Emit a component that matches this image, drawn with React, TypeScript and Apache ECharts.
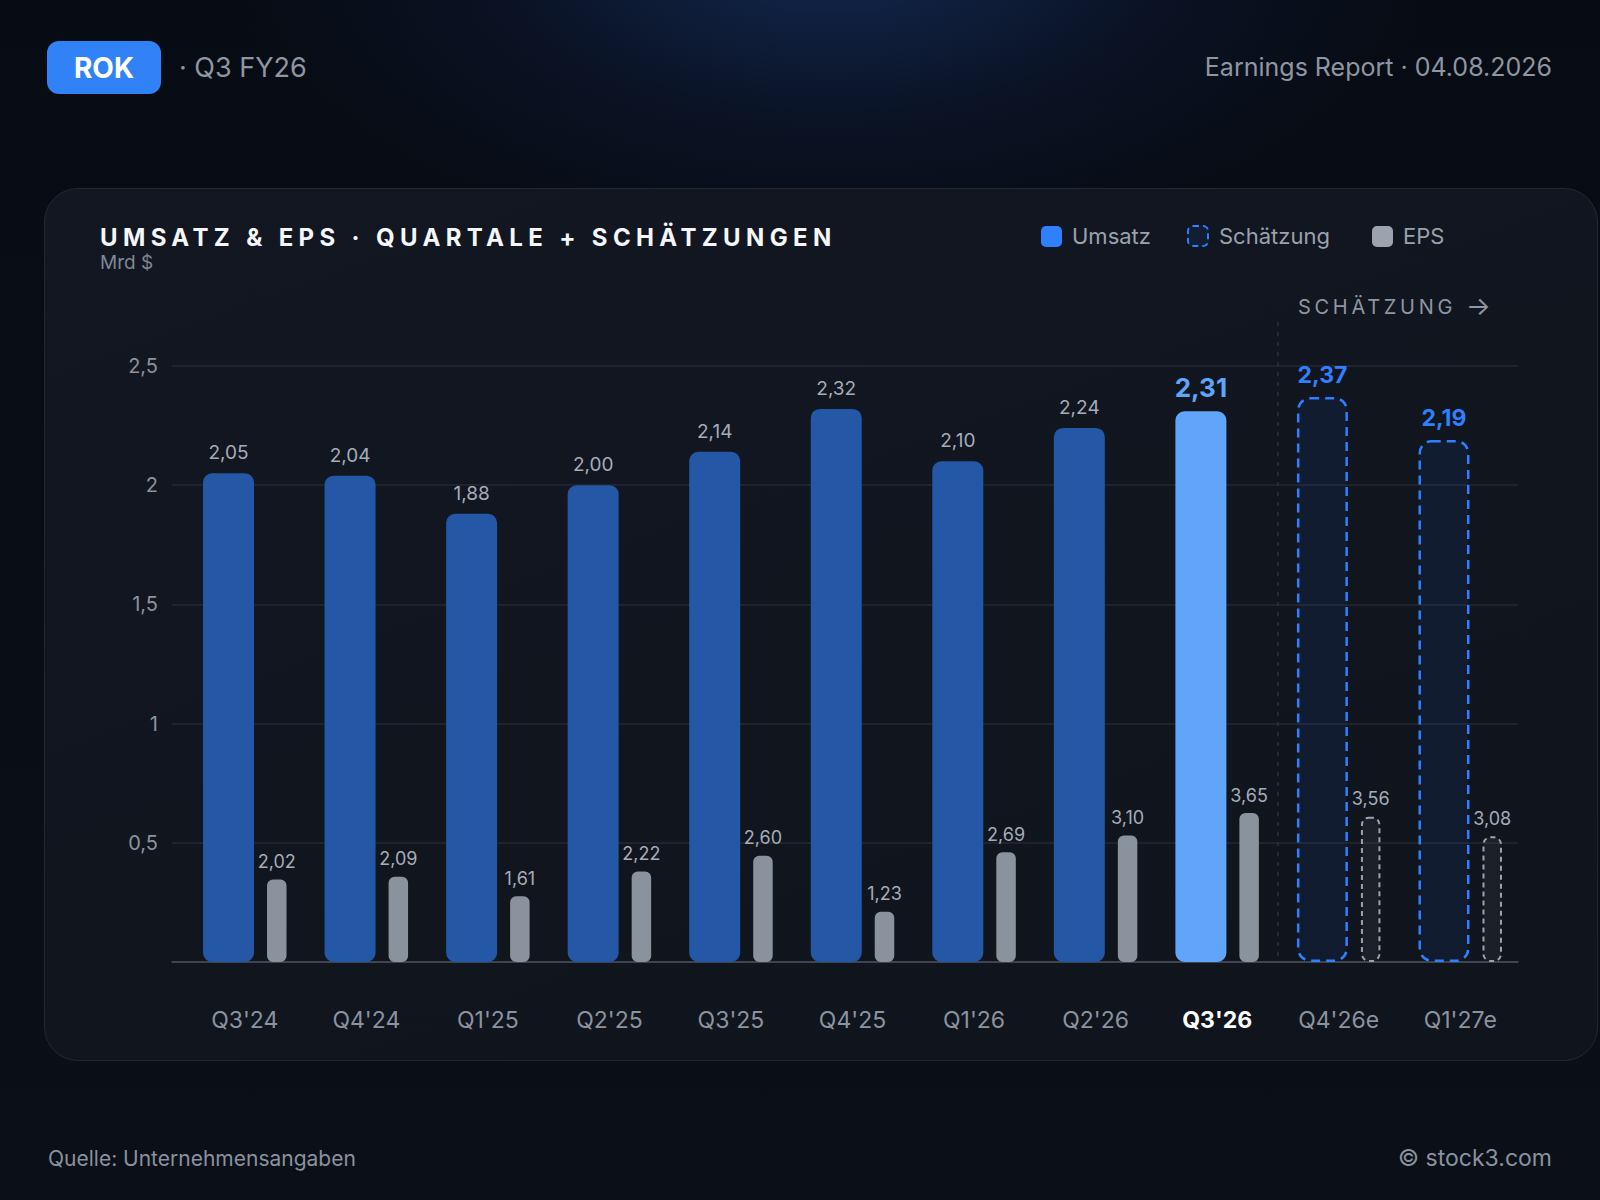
import React, { useEffect, useRef } from "react";
import * as echarts from "echarts";

// ---- data ----
const categories = ["Q3'24", "Q4'24", "Q1'25", "Q2'25", "Q3'25", "Q4'25", "Q1'26", "Q2'26", "Q3'26", "Q4'26e", "Q1'27e"];
const revenue = [2.05, 2.04, 1.88, 2.0, 2.14, 2.32, 2.1, 2.24, 2.31, 2.37, 2.19];
const eps = [2.02, 2.09, 1.61, 2.22, 2.6, 1.23, 2.69, 3.1, 3.65, 3.56, 3.08];
const currentIndex = 8;
const firstEstimateIndex = 9;
const revenueMax = 2.5;
const revenueInterval = 0.5;

const FONT = "Inter, 'Noto Sans', 'DejaVu Sans', sans-serif";
const W = 1600;
const H = 1200;

const fmt2 = (v: number) => v.toFixed(2).replace(".", ",");
const fmtAxis = (v: number) => (v === 0 ? "" : String(v).replace(".", ","));

const C = {
  bar: "#2457a5",
  barCurrent: "#60a5fa",
  est: "#2f80ff",
  eps: "#8a929d",
  epsEstBorder: "#9ca3af",
  label: "#a6adb8",
  axis: "#8b93a0",
  grid: "#232934",
  base: "#4a515d",
};

function buildOption(): any {
  const epsMax = Math.max(...eps) * 4;
  const revData = revenue.map((v, i) => {
    if (i >= firstEstimateIndex) {
      return {
        value: v,
        itemStyle: {
          color: "rgba(30,80,170,0.13)",
          borderColor: C.est,
          borderWidth: 2.5,
          borderType: [9, 6],
          borderRadius: 12,
        },
        label: { color: C.est, fontSize: 23, fontWeight: 700, distance: 10 },
      };
    }
    if (i === currentIndex) {
      return {
        value: v,
        itemStyle: { color: C.barCurrent, borderRadius: 9 },
        label: { color: C.barCurrent, fontSize: 26, fontWeight: 700, distance: 11 },
      };
    }
    return v;
  });
  const epsData = eps.map((v, i) => {
    if (i >= firstEstimateIndex) {
      return {
        value: v,
        itemStyle: {
          color: "rgba(160,165,175,0.08)",
          borderColor: C.epsEstBorder,
          borderWidth: 2,
          borderType: [5, 4],
          borderRadius: 7,
        },
      };
    }
    return v;
  });

  return {
    animation: false,
    backgroundColor: "transparent",
    textStyle: { fontFamily: FONT },
    grid: [
      { left: 184, right: W - 1521, top: 366, bottom: H - 962, containLabel: false },
      { left: 172, right: W - 1518, top: 366, bottom: H - 962, containLabel: false },
    ],
    xAxis: [
      {
        type: "category",
        gridIndex: 0,
        data: categories,
        axisLine: { show: false },
        axisTick: { show: false },
        splitLine: { show: false },
        axisLabel: {
          margin: 46,
          formatter: (v: string, i: number) => (i === currentIndex ? `{b|${v}}` : `{n|${v}}`),
          rich: {
            n: { fontSize: 23, color: C.axis, fontFamily: FONT },
            b: { fontSize: 23, color: "#ffffff", fontWeight: 700, fontFamily: FONT },
          },
        },
      },
      {
        type: "value",
        gridIndex: 1,
        min: 0,
        max: 1,
        position: "bottom",
        axisLine: { show: true, onZero: false, lineStyle: { color: C.base, width: 1.5 } },
        axisTick: { show: false },
        axisLabel: { show: false },
        splitLine: { show: false },
      },
    ],
    yAxis: [
      { type: "value", gridIndex: 0, min: 0, max: revenueMax, show: false },
      { type: "value", gridIndex: 0, min: 0, max: epsMax, show: false },
      {
        type: "value",
        gridIndex: 1,
        min: 0,
        max: revenueMax,
        interval: revenueInterval,
        axisLine: { show: false },
        axisTick: { show: false },
        axisLabel: { margin: 14, color: C.axis, fontSize: 20, fontFamily: FONT, formatter: fmtAxis },
        splitLine: { show: true, lineStyle: { color: C.grid, width: 1.5 } },
      },
    ],
    series: [
      {
        name: "Umsatz",
        type: "bar",
        xAxisIndex: 0,
        yAxisIndex: 0,
        barWidth: 51,
        barGap: "25.5%",
        data: revData,
        itemStyle: { color: C.bar, borderRadius: 9 },
        label: {
          show: true,
          position: "top",
          distance: 11,
          color: C.label,
          fontSize: 19,
          fontFamily: FONT,
          formatter: (p: any) => fmt2(p.value),
        },
        z: 3,
      },
      {
        name: "EPS",
        type: "bar",
        xAxisIndex: 0,
        yAxisIndex: 1,
        barWidth: 19.5,
        barGap: "25.5%",
        data: epsData,
        itemStyle: { color: C.eps, borderRadius: 6 },
        label: {
          show: true,
          position: "top",
          distance: 9,
          color: C.label,
          fontSize: 18,
          fontFamily: FONT,
          formatter: (p: any) => fmt2(p.value),
        },
        z: 3,
      },
    ],
  };
}

function Txt(props: {
  x?: number;
  right?: number;
  cy: number;
  size: number;
  color: string;
  weight?: number;
  spacing?: number;
  children: React.ReactNode;
}) {
  const style: React.CSSProperties = {
    position: "absolute",
    top: props.cy - props.size / 2,
    fontSize: props.size,
    lineHeight: `${props.size}px`,
    color: props.color,
    fontWeight: props.weight ?? 400,
    letterSpacing: props.spacing ? `${props.spacing}px` : undefined,
    whiteSpace: "nowrap",
    fontFamily: FONT,
  };
  if (props.x !== undefined) style.left = props.x;
  if (props.right !== undefined) style.right = W - props.right;
  return <div style={style}>{props.children}</div>;
}

export default function App() {
  const ref = useRef<HTMLDivElement>(null);

  useEffect(() => {
    const el = ref.current;
    if (!el) return;
    const chart = echarts.init(el, null, { renderer: "svg", width: W, height: H });
    chart.setOption(buildOption());
    const xa = chart.convertToPixel({ xAxisIndex: 0 }, categories[currentIndex]) as number;
    const xb = chart.convertToPixel({ xAxisIndex: 0 }, categories[firstEstimateIndex]) as number;
    const y0 = chart.convertToPixel({ yAxisIndex: 0 }, 0) as number;
    const xd = (xa + xb) / 2;
    chart.setOption({
      graphic: [
        {
          type: "line",
          silent: true,
          z: 1,
          shape: { x1: xd, y1: 322, x2: xd, y2: y0 },
          style: { stroke: "#2c323d", lineWidth: 1.5, lineDash: [4, 6] },
        },
      ],
    });
    return () => chart.dispose();
  }, []);

  return (
    <div
      style={{
        position: "absolute",
        left: 0,
        top: 0,
        width: W,
        height: H,
        overflow: "hidden",
        fontFamily: FONT,
        background:
          "radial-gradient(ellipse 760px 380px at 52% -4%, rgba(28,64,130,0.55) 0%, rgba(18,40,85,0.25) 45%, rgba(10,14,22,0) 80%), linear-gradient(180deg, #070b13 0%, #090d16 40%, #0a0f18 100%)",
      }}
    >
      {/* card */}
      <div
        style={{
          position: "absolute",
          left: 44,
          top: 188,
          width: 1554,
          height: 873,
          boxSizing: "border-box",
          borderRadius: 34,
          border: "1.5px solid #222833",
          background: "linear-gradient(160deg, #121722 0%, #10151e 60%, #10141d 100%)",
        }}
      />
      {/* chart */}
      <div ref={ref} style={{ position: "absolute", left: 0, top: 0, width: W, height: H, zIndex: 1 }} />

      {/* overlay texts */}
      <div style={{ position: "absolute", left: 0, top: 0, width: W, height: H, zIndex: 2, pointerEvents: "none" }}>
        {/* header */}
        <div
          style={{
            position: "absolute",
            left: 47,
            top: 41,
            width: 114,
            height: 53,
            borderRadius: 12,
            background: "#3182f6",
            display: "flex",
            alignItems: "center",
            justifyContent: "center",
            color: "#ffffff",
            fontWeight: 700,
            fontSize: 28,
            fontFamily: FONT,
          }}
        >
          ROK
        </div>
        <Txt x={179} cy={67} size={27} color="#8e96a3">
          · Q3 FY26
        </Txt>
        <Txt right={1552} cy={67.5} size={25} color="#8e96a3">
          Earnings Report · 04.08.2026
        </Txt>

        {/* title */}
        <Txt x={100} cy={238} size={24} color="#f4f6f9" weight={700} spacing={5.35}>
          UMSATZ &amp; EPS · QUARTALE + SCHÄTZUNGEN
        </Txt>
        <Txt x={100} cy={262} size={19} color="#7f8794">
          Mrd $
        </Txt>

        {/* legend */}
        <div
          style={{
            position: "absolute",
            left: 1041,
            top: 225.5,
            width: 21,
            height: 21,
            borderRadius: 5,
            background: "#2f80ff",
          }}
        />
        <Txt x={1072} cy={236} size={22} color="#9aa2ae">
          Umsatz
        </Txt>
        <div
          style={{
            position: "absolute",
            left: 1187,
            top: 225,
            width: 22,
            height: 22,
            boxSizing: "border-box",
            borderRadius: 6,
            border: "2px dashed #2f80ff",
            background: "rgba(30,80,170,0.15)",
          }}
        />
        <Txt x={1219} cy={236} size={22} color="#9aa2ae">
          Schätzung
        </Txt>
        <div
          style={{
            position: "absolute",
            left: 1372,
            top: 225.5,
            width: 21,
            height: 21,
            borderRadius: 5,
            background: "#9ca3af",
          }}
        />
        <Txt x={1403} cy={236} size={22} color="#9aa2ae">
          EPS
        </Txt>

        {/* estimate marker */}
        <Txt x={1298} cy={305} size={20} color="#8e96a3" spacing={3.7}>
          SCHÄTZUNG<span style={{ fontSize: 26, letterSpacing: 0, marginLeft: 10, position: "relative", top: 1 }}>→</span>
        </Txt>

        {/* footer */}
        <Txt x={48} cy={1158} size={21} color="#8a929e">
          Quelle: Unternehmensangaben
        </Txt>
        <Txt right={1552} cy={1158} size={23} color="#8a929e">
          © stock3.com
        </Txt>
      </div>
    </div>
  );
}
